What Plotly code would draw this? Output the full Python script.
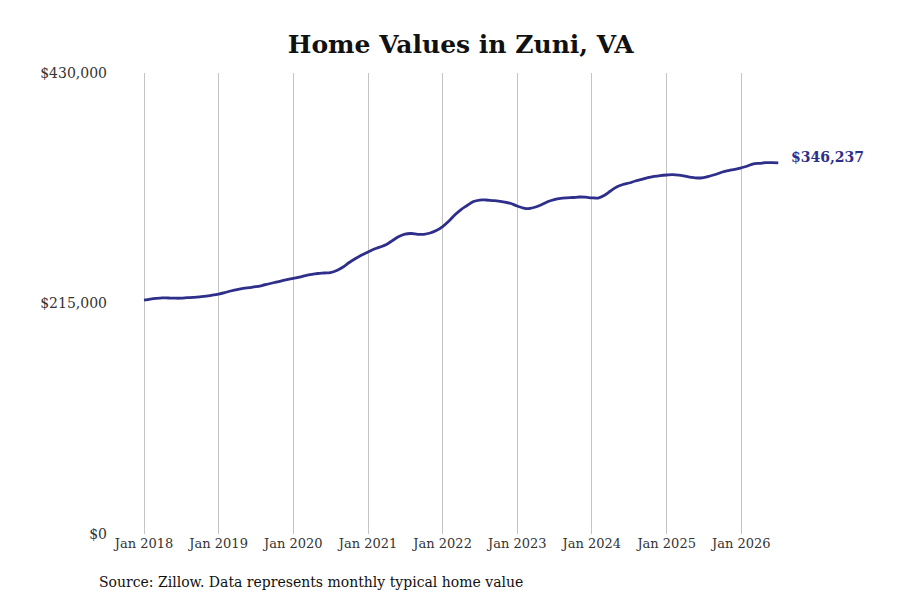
import plotly.graph_objects as go
import pandas as pd

# monthly typical home value, Jan 2018 - Jul 2026
months = pd.date_range("2018-01-01", periods=103, freq="MS")
values = [
    218250, 219180, 219840, 220300, 220120, 219930, 219930, 220400, 220770, 221240, 221800, 222730,
    223850, 225250, 226650, 228050, 229160, 229910, 230660, 231780, 233180, 234580, 235980, 237190,
    238490, 239700, 241100, 242220, 242970, 243430, 243900, 245760, 249030, 253230, 256960, 260220,
    263020, 265820, 267680, 270020, 273750, 277480, 279810, 280280, 279530, 279530, 280740, 283070,
    286810, 291940, 297530, 302660, 306390, 310120, 311520, 311520, 311050, 310590, 309660, 308260,
    305930, 304060, 303600, 305000, 307330, 310120, 311990, 313110, 313570, 313850, 314320, 314130,
    313570, 313390, 315720, 319920, 323650, 325980, 327380, 329240, 330830, 332510, 333630, 334370,
    334840, 335120, 334650, 333720, 332690, 332040, 332510, 333910, 335590, 337640, 339040, 340160,
    341560, 343230, 345290, 345800, 346350, 346400, 346237,
]
ytick_vals = [0, 215000, 430000]
ytick_text = ["$0", "$215,000", "$430,000"]
last_label = "$346,237"

line_color = "#2E2E8B"
font = "DejaVu Serif"

fig = go.Figure()
fig.add_trace(go.Scatter(x=months, y=values, mode="lines",
                         line=dict(color=line_color, width=2.8, shape="spline"),
                         hoverinfo="x+y", showlegend=False))

fig.add_annotation(x=months[-1], y=values[-1], text="<b>" + last_label + "</b>",
                   showarrow=False, xanchor="left", xshift=11, yshift=6,
                   font=dict(family=font, size=14, color=line_color))

fig.add_annotation(xref="paper", yref="paper", x=-0.027, y=-0.104,
                   text="Source: Zillow. Data represents monthly typical home value",
                   showarrow=False, xanchor="left", yanchor="middle",
                   font=dict(family=font, size=14, color="#111111"))

fig.update_layout(
    width=900, height=600,
    margin=dict(l=107, r=123, t=65, b=74),
    paper_bgcolor="white", plot_bgcolor="white",
    title=dict(text="<b>Home Values in Zuni, VA</b>", x=0.503, xanchor="center",
               y=0.94, yanchor="middle",
               font=dict(family=font, size=25, color="#111111")),
    font=dict(family=font, size=14, color="#333333"),
)
fig.update_xaxes(range=["2017-08-12", "2026-08-03"], tickformat="%b %Y",
                 dtick="M12", tick0="2018-01-01",
                 showgrid=True, gridcolor="#c4c4c4", gridwidth=1,
                 showline=False, zeroline=False, ticks="",
                 tickfont=dict(family=font, size=13, color="#333333"))
fig.update_yaxes(range=[0, 430000], tickvals=ytick_vals, ticktext=ytick_text,
                 showgrid=False, zeroline=False, showline=False, ticks="",
                 ticklabelstandoff=7,
                 tickfont=dict(family=font, size=14, color="#333333"))

fig.write_html("out.html")
